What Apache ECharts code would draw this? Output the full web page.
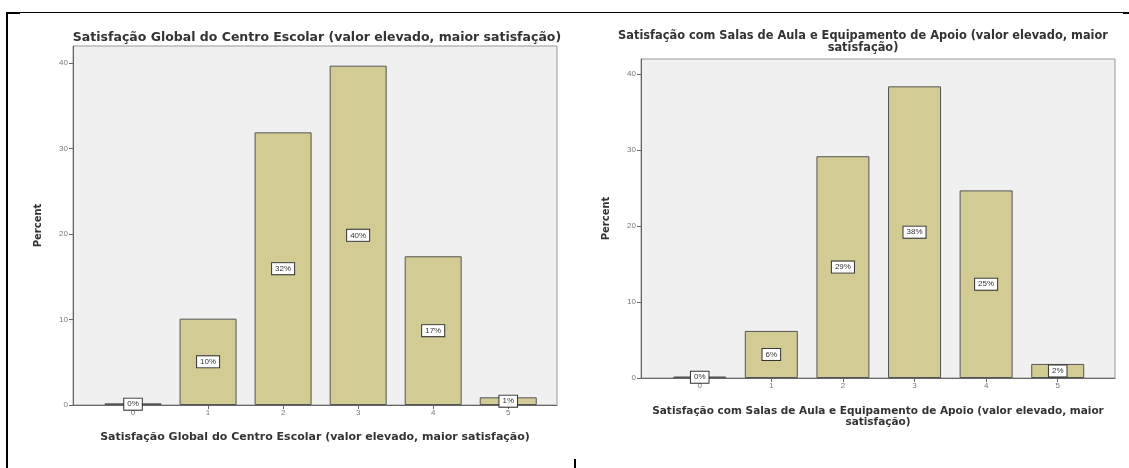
<!DOCTYPE html>
<html><head><meta charset="utf-8">
<script src="https://cdn.jsdelivr.net/npm/echarts@6/dist/echarts.min.js"></script>
<style>
html,body{margin:0;padding:0;background:#fff;}
#c{position:absolute;left:0;top:0;width:1129px;height:468px;}
.ln{position:absolute;background:#000;}
</style></head>
<body>
<div id="c"></div>
<div class="ln" style="left:6px;top:12px;width:1123px;height:1px;"></div>
<div class="ln" style="left:6px;top:12px;width:14px;height:2px;"></div>
<div class="ln" style="left:1123px;top:12px;width:6px;height:2px;"></div>
<div class="ln" style="left:6px;top:12px;width:2px;height:456px;"></div>
<div class="ln" style="left:574px;top:459px;width:2px;height:9px;"></div>
<script>
const categories = [0, 1, 2, 3, 4, 5];
const yTicks = [0, 10, 20, 30, 40];
const leftTitle = 'Satisfação Global do Centro Escolar (valor elevado, maior satisfação)';
const leftValues = [0.2, 10.1, 31.9, 39.7, 17.4, 0.9];
const leftLabels = ['0%', '10%', '32%', '40%', '17%', '1%'];
const rightTitle = 'Satisfação com Salas de Aula e Equipamento de Apoio (valor elevado, maior\nsatisfação)';
const rightValues = [0.2, 6.2, 29.2, 38.4, 24.7, 1.85];
const rightLabels = ['0%', '6%', '29%', '38%', '25%', '2%'];

const FONT = '"Liberation Sans", Arial, sans-serif';
const BFONT = '"DejaVu Sans", Verdana, sans-serif';
const chart = echarts.init(document.getElementById('c'));

function xAxis(gi, min, max, name, gap, fs) {
  return {
    type: 'value', gridIndex: gi, min: min, max: max,
    name: name, nameLocation: 'middle', nameGap: gap,
    nameTextStyle: {fontFamily: BFONT, fontWeight: 'bold', fontSize: fs, color: '#333', lineHeight: 11},
    axisLine: {show: true, onZero: false, lineStyle: {color: '#666', width: 1}},
    axisTick: {show: true, customValues: categories, length: 4, lineStyle: {color: '#666'}},
    axisLabel: {customValues: categories, fontSize: 8, color: '#777', fontFamily: FONT, margin: 4},
    splitLine: {show: false}
  };
}
function yAxis(gi, gap) {
  return {
    type: 'value', gridIndex: gi, min: 0, max: 42, interval: 10,
    name: 'Percent', nameLocation: 'middle', nameRotate: 90, nameGap: gap,
    nameTextStyle: {fontFamily: BFONT, fontWeight: 'bold', fontSize: 10, color: '#333'},
    axisLine: {show: true, onZero: false, lineStyle: {color: '#666', width: 1}},
    axisTick: {show: true, customValues: yTicks, length: 4, lineStyle: {color: '#666'}},
    axisLabel: {customValues: yTicks, fontSize: 8, color: '#777', fontFamily: FONT, margin: 5},
    splitLine: {show: false}
  };
}
function barSeries(gi, values, labels, bw) {
  return {
    type: 'bar', xAxisIndex: gi, yAxisIndex: gi, barWidth: bw,
    data: values.map((v, i) => [categories[i], v]),
    itemStyle: {color: '#d2cb93', borderColor: '#555', borderWidth: 1},
    label: {show: true, position: 'inside', fontSize: 8, color: '#333', fontFamily: FONT,
      backgroundColor: '#fff', borderColor: '#333', borderWidth: 1, padding: [2, 3, 1, 3],
      formatter: p => labels[p.dataIndex]},
    animation: false
  };
}

chart.setOption({
  animation: false,
  title: [
    {text: leftTitle, left: 312, top: 26, textAlign: 'center',
      textStyle: {fontFamily: BFONT, fontWeight: 'bold', fontSize: 12.5, color: '#333'}},
    {text: rightTitle, left: 858, top: 25, textAlign: 'center',
      textStyle: {fontFamily: BFONT, fontWeight: 'bold', fontSize: 11.4, color: '#333', lineHeight: 12}}
  ],
  grid: [
    {left: 73, top: 46, width: 484, height: 359, show: true, backgroundColor: '#f0f0f0', borderColor: '#999', borderWidth: 1},
    {left: 641, top: 59, width: 474, height: 319, show: true, backgroundColor: '#f0f0f0', borderColor: '#999', borderWidth: 1}
  ],
  xAxis: [xAxis(0, -0.8, 5.65, leftTitle, 27, 11), xAxis(1, -0.82, 5.8, rightTitle, 28, 10.5)],
  yAxis: [yAxis(0, 30), yAxis(1, 30)],
  series: [barSeries(0, leftValues, leftLabels, 57), barSeries(1, rightValues, rightLabels, 53)]
});
</script>
</body></html>
